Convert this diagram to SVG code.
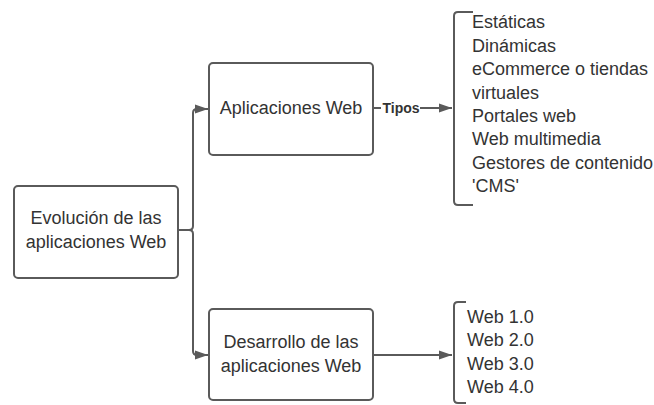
<svg xmlns="http://www.w3.org/2000/svg" width="654" height="405" viewBox="0 0 654 405">
<defs>
<style>
.box{fill:#fff;stroke:#5a5a5a;stroke-width:2}
.t{font-family:"Liberation Sans",Arial,sans-serif;font-size:18px;fill:#333}
.c{text-anchor:middle}
.ln{fill:none;stroke:#5a5a5a;stroke-width:2}
.lbl{font-family:"Liberation Sans",Arial,sans-serif;font-size:14px;font-weight:bold;fill:#333}
</style>
<marker id="ah" markerWidth="13" markerHeight="10" refX="13" refY="5" orient="auto" markerUnits="userSpaceOnUse">
<path d="M0,0.5 L13,5 L0,9.5 Z" fill="#5a5a5a"/>
</marker>
</defs>
<rect width="654" height="405" fill="#fff"/>
<g id="connectors">
<path class="ln" d="M178,230 H189 Q193,230 193,226 V113 Q193,109 197,109 H208" marker-end="url(#ah)"/>
<path class="ln" d="M189,230 Q193,230 193,234 V351 Q193,355 197,355 H208" marker-end="url(#ah)"/>
<path class="ln" d="M373,108 H381"/>
<path class="ln" d="M420,108 H452" marker-end="url(#ah)"/>
<text class="lbl" x="401" y="113" text-anchor="middle">Tipos</text>
<path class="ln" d="M373,355 H452" marker-end="url(#ah)"/>
</g>
<g id="evolucion">
<rect class="box" x="14" y="186" width="164" height="92" rx="4"/>
<text class="t c" x="96" y="224">Evolución de las</text>
<text class="t c" x="96" y="248">aplicaciones Web</text>
</g>
<g id="aplicaciones">
<rect class="box" x="209" y="63" width="164" height="92" rx="4"/>
<text class="t c" x="291" y="114">Aplicaciones Web</text>
</g>
<g id="desarrollo">
<rect class="box" x="209" y="309" width="164" height="91" rx="4"/>
<text class="t c" x="291" y="348">Desarrollo de las</text>
<text class="t c" x="291" y="372">aplicaciones Web</text>
</g>
<g id="tipos-lista">
<path class="ln" d="M473,12 H458 Q454,12 454,16 V201 Q454,205 458,205 H473"/>
<text class="t" x="472" y="28">Estáticas</text>
<text class="t" x="472" y="52">Dinámicas</text>
<text class="t" x="472" y="75">eCommerce o tiendas</text>
<text class="t" x="472" y="99">virtuales</text>
<text class="t" x="472" y="122">Portales web</text>
<text class="t" x="472" y="145">Web multimedia</text>
<text class="t" x="472" y="169">Gestores de contenido</text>
<text class="t" x="472" y="192">'CMS'</text>
</g>
<g id="web-lista">
<path class="ln" d="M466,302 H458 Q454,302 454,306 V399 Q454,403 458,403 H466"/>
<text class="t" x="467" y="323">Web 1.0</text>
<text class="t" x="467" y="346">Web 2.0</text>
<text class="t" x="467" y="370">Web 3.0</text>
<text class="t" x="467" y="393">Web 4.0</text>
</g>
</svg>
